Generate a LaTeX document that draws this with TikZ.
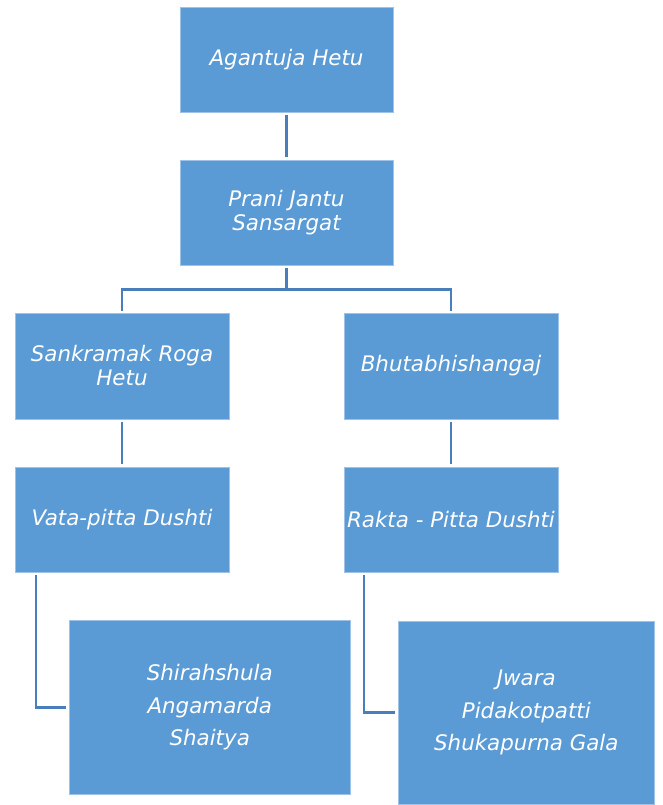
\documentclass[tikz,border=0pt]{standalone}
\usepackage{fontspec}
\setmainfont{DejaVu Sans}
\definecolor{boxfill}{HTML}{5B9BD5}
\definecolor{boxedge}{HTML}{9EC2E8}
\definecolor{connclr}{HTML}{4A7EBB}
\begin{document}
\begin{tikzpicture}[x=1pt,y=-1pt,
  box/.style={rectangle, fill=boxfill, draw=boxedge, line width=0.6pt, inner sep=0pt,
    text=white, align=center, font=\fontsize{21.4}{24}\selectfont\itshape},
  bigbox/.style={box, font=\fontsize{21.4}{32.5}\selectfont\itshape},
  conn/.style={draw=connclr, line width=2.4pt, shorten <=3pt, shorten >=3pt}]
\useasboundingbox (0,0) rectangle (662,805);
\node[box, minimum width=213pt, minimum height=105pt] (agan) at (286.5,59.5) {Agantuja Hetu};
\node[box, minimum width=213pt, minimum height=105pt] (prani) at (286.5,212.5) {Prani Jantu\\Sansargat};
\node[box, minimum width=214pt, minimum height=106pt] (sank) at (122,366) {Sankramak Roga\\Hetu};
\node[box, minimum width=214pt, minimum height=106pt] (bhuta) at (451,366) {Bhutabhishangaj};
\node[box, minimum width=214pt, minimum height=105pt] (vata) at (122,519.5) {Vata-pitta Dushti};
\node[box, minimum width=214pt, minimum height=105pt] (rakta) at (451,519.5) {Rakta - Pitta Dushti};
\node[bigbox, minimum width=281pt, minimum height=174pt] (shir) at (209.7,707.3) {Shirahshula\\Angamarda\\Shaitya};
\node[bigbox, minimum width=256pt, minimum height=183pt] (jwara) at (526.3,712.5) {Jwara\\Pidakotpatti\\Shukapurna Gala};
\coordinate (bus) at (286.5,289.3);
\draw[conn] (agan) -- (prani);
\draw[conn, shorten >=0pt] (prani.south) -- (bus);
\draw[conn, shorten <=0pt, shorten >=2pt] (bus) -| (sank.north);
\draw[conn, shorten <=0pt, shorten >=2pt] (bus) -| (bhuta.north);
\draw[conn] (sank) -- (vata);
\draw[conn] (bhuta) -- (rakta);
\draw[conn] ([xshift=-86pt]vata.south) |- (shir.west);
\draw[conn] ([xshift=-87pt]rakta.south) |- (jwara.west);
\end{tikzpicture}
\end{document}
